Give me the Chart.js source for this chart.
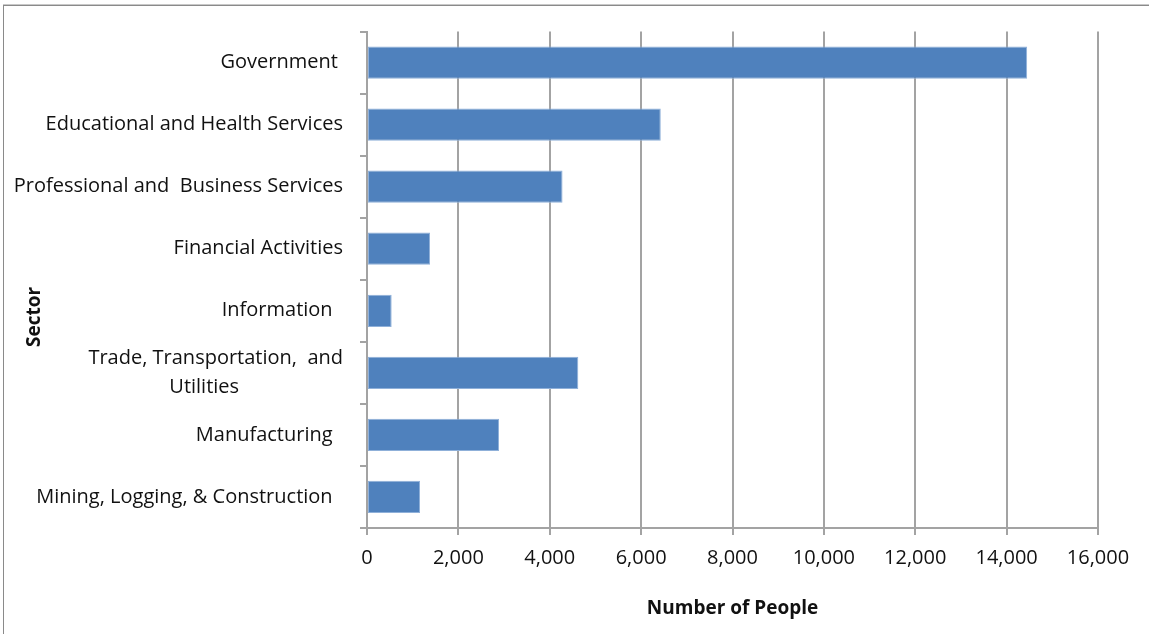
<!DOCTYPE html>
<html>
<head>
<meta charset="utf-8">
<script src="https://cdn.jsdelivr.net/npm/chart.js@4/dist/chart.umd.min.js"></script>
<style>
  html, body { margin: 0; padding: 0; background: #fff; overflow: hidden; }
  #wrap { position: relative; width: 1149px; height: 634px; }
  #frame {
    position: absolute; left: 3px; top: 5px; width: 1160px; height: 640px;
    border: 1px solid #8a8a8a; box-shadow: 0 -1px 0 #c8c8c8;
    pointer-events: none;
  }
</style>
</head>
<body>
<div id="wrap">
  <canvas id="chart"></canvas>
  <div id="frame"></div>
</div>
<script>
// sectors, top to bottom as in the picture
const sectors = [
  'Government ',
  'Educational and Health Services',
  'Professional and  Business Services',
  'Financial Activities',
  'Information  ',
  ['Trade, Transportation,  and', 'Utilities                    '],
  'Manufacturing  ',
  'Mining, Logging, & Construction  '
];
const people = [14450, 6430, 4280, 1380, 540, 4625, 2890, 1160];
const xTicks = [0, 2000, 4000, 6000, 8000, 10000, 12000, 14000, 16000];

const FONT = '"Open Sans", "Noto Sans", sans-serif';
const gridGray = '#a3a3a3';

// "Sector" sits lower than the plot centre, so draw it by hand
const sectorTitle = {
  id: 'sectorTitle',
  afterDraw(chart) {
    const ctx = chart.ctx;
    ctx.save();
    ctx.translate(35, 317);
    ctx.rotate(-Math.PI / 2);
    ctx.font = 'bold 19px ' + FONT;
    ctx.fillStyle = '#111';
    ctx.textAlign = 'center';
    ctx.textBaseline = 'middle';
    ctx.fillText('Sector', 0, 0);
    ctx.restore();
  }
};

new Chart(document.getElementById('chart'), {
  type: 'bar',
  data: {
    labels: sectors,
    datasets: [{
      data: people,
      backgroundColor: '#4f81bd',
      borderColor: '#8fb0d9',
      borderWidth: 1,
      borderSkipped: false,
      barPercentage: 0.52,
      categoryPercentage: 1
    }]
  },
  options: {
    indexAxis: 'y',
    responsive: true,
    maintainAspectRatio: false,
    animation: false,
    layout: { padding: { top: 29, right: 51, left: 0, bottom: 0 } },
    plugins: {
      legend: { display: false },
      tooltip: { enabled: false }
    },
    scales: {
      x: {
        min: 0,
        max: 16000,
        afterBuildTicks: (scale) => { scale.ticks = xTicks.map(v => ({ value: v })); },
        afterFit: (scale) => { scale.height = 106; },
        grid: { color: gridGray, lineWidth: 2, tickLength: 7 },
        border: { color: gridGray, width: 2 },
        ticks: {
          color: '#111',
          font: { family: FONT, size: 20 },
          padding: 11,
          maxRotation: 0,
          callback: (v) => v.toLocaleString('en-US')
        },
        title: {
          display: true,
          text: 'Number of People',
          color: '#111',
          font: { family: FONT, size: 19, weight: 'bold' },
          padding: { top: 0, bottom: 14 }
        }
      },
      y: {
        afterFit: (scale) => { scale.width = 367; },
        grid: { drawOnChartArea: false, color: gridGray, lineWidth: 2, tickLength: 7, offset: true },
        border: { color: gridGray, width: 2 },
        ticks: {
          color: '#111',
          font: { family: FONT, size: 20, lineHeight: 1.45 },
          padding: 17,
          autoSkip: false
        }
      }
    }
  },
  plugins: [sectorTitle]
});
</script>
</body>
</html>
